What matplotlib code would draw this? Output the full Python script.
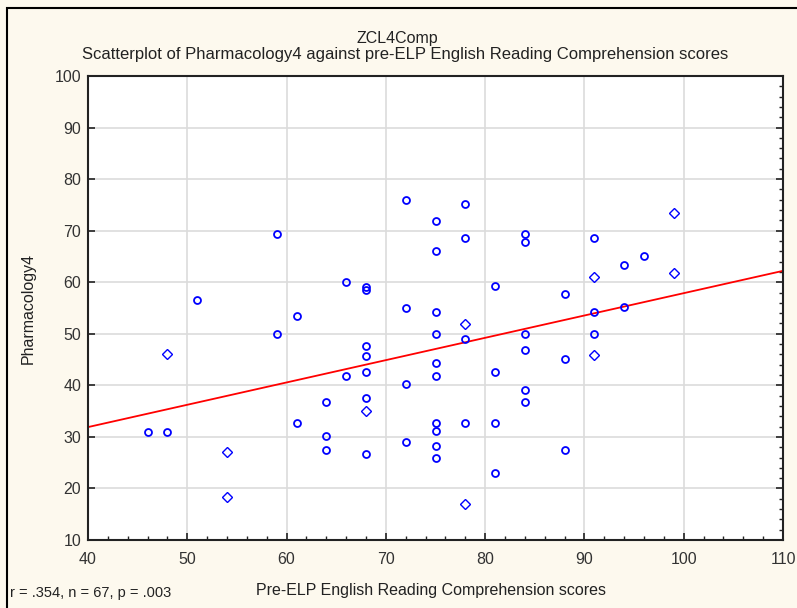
import numpy as np
import matplotlib
matplotlib.use("Agg")
import matplotlib.pyplot as plt
from matplotlib.patches import Rectangle
from matplotlib.ticker import MultipleLocator

plt.rcParams['font.family'] = ['Liberation Sans', 'DejaVu Sans']

# pre-ELP reading comprehension (x) vs Pharmacology4 (y), circle markers
x_circ = [46, 48, 51, 59, 59, 61, 61, 64, 64, 64, 66, 66,
          68, 68, 68, 68, 68, 68, 68,
          72, 72, 72, 72,
          75, 75, 75, 75, 75, 75, 75, 75, 75, 75,
          78, 78, 78, 78,
          81, 81, 81, 81,
          84, 84, 84, 84, 84, 84,
          88, 88, 88,
          91, 91, 91,
          94, 94, 96]
y_circ = [31, 31, 56.6, 69.4, 50, 53.5, 32.6, 36.8, 30.2, 27.5, 60.1, 41.9,
          59.1, 58.5, 47.7, 45.7, 42.6, 37.6, 26.7,
          76, 55, 40.3, 29.1,
          71.9, 66.1, 54.3, 50, 44.4, 41.9, 32.6, 31.2, 28.3, 26,
          75.2, 68.6, 49, 32.6,
          59.3, 42.6, 32.6, 22.9,
          69.4, 67.8, 50, 46.9, 39.1, 36.8,
          57.8, 45.2, 27.5,
          68.6, 54.3, 50,
          63.4, 55.2, 65.1]
# diamond-looking markers
x_diam = [48, 54, 54, 68, 78, 78, 91, 91, 99, 99]
y_diam = [46, 27, 18.4, 35.1, 51.9, 16.9, 61, 45.9, 73.4, 61.8]

x_all = np.array(x_circ + x_diam, dtype=float)
y_all = np.array(y_circ + y_diam, dtype=float)
slope, icept = np.polyfit(x_all, y_all, 1)

fig = plt.figure(figsize=(7.97, 6.08), dpi=100)
fig.patch.set_facecolor('#fdf9ee')
fig.patches.append(Rectangle((7 / 797, -0.01), 1.0, 1 - 8 / 608 + 0.01,
                             transform=fig.transFigure, fill=False,
                             edgecolor='black', linewidth=1.5))

ax = fig.add_axes([88 / 797, 1 - 540 / 608, (783 - 88) / 797, (540 - 76) / 608])
ax.set_facecolor('white')
ax.set_xlim(40, 110)
ax.set_ylim(10, 100)
ax.xaxis.set_major_locator(MultipleLocator(10))
ax.xaxis.set_minor_locator(MultipleLocator(2))
ax.yaxis.set_major_locator(MultipleLocator(10))
ax.yaxis.set_minor_locator(MultipleLocator(2))
ax.grid(True, which='major', color='#dcdcdc', linewidth=1.2)
ax.set_axisbelow(True)
for s in ax.spines.values():
    s.set_linewidth(1.5)
    s.set_color('#222222')
ax.tick_params(which='both', direction='in', right=True, top=False,
               labelsize=11.5, colors='#222222', labelcolor='#333333')
ax.tick_params(which='major', length=5, width=1.2, pad=5)
ax.tick_params(axis='x', which='major', pad=9)
ax.tick_params(which='minor', length=3, width=1.0)
ax.tick_params(axis='y', which='minor', left=False)

xs = np.array([40, 110])
ax.plot(xs, icept + slope * xs, color='red', linewidth=1.3, zorder=2)
ax.plot(x_circ, y_circ, linestyle='none', marker='o', markersize=5,
        markerfacecolor='none', markeredgecolor='blue', markeredgewidth=1.3, zorder=3)
ax.plot(x_diam, y_diam, linestyle='none', marker='D', markersize=5,
        markerfacecolor='none', markeredgecolor='blue', markeredgewidth=1.0, zorder=3)

fig.text(397 / 797, 1 - 38 / 608, 'ZCL4Comp', ha='center', va='center', fontsize=11.5, color='#222222')
fig.text(405 / 797, 1 - 55 / 608,
         'Scatterplot of Pharmacology4 against pre-ELP English Reading Comprehension scores',
         ha='center', va='center', fontsize=12, color='#222222')
fig.text(28 / 797, 1 - 308 / 608, 'Pharmacology4', rotation=90, ha='center', va='center',
         fontsize=11.5, color='#222222')
fig.text(431 / 797, 1 - 591 / 608, 'Pre-ELP English Reading Comprehension scores',
         ha='center', va='center', fontsize=11.5, color='#222222')
fig.text(10 / 797, 1 - 593 / 608, 'r = .354, n = 67, p = .003', ha='left', va='center',
         fontsize=10.5, color='#222222')

fig.savefig('out.png', dpi=100, facecolor=fig.get_facecolor())
